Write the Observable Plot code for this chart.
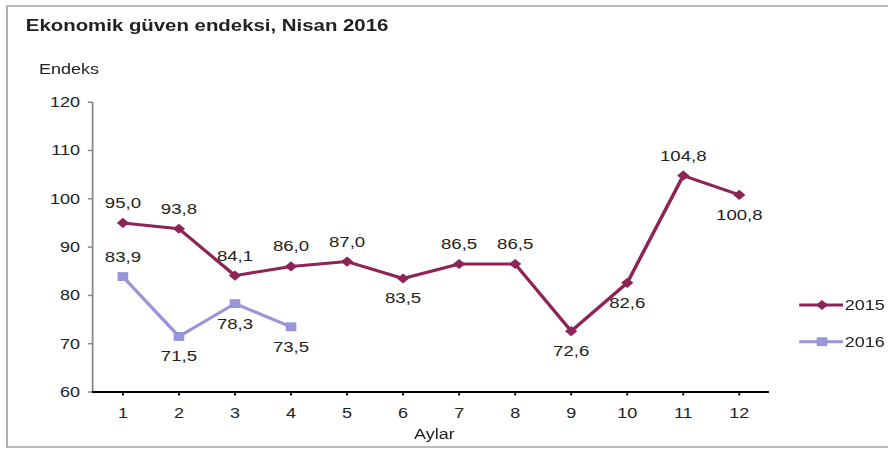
<!DOCTYPE html>
<html><head><meta charset="utf-8">
<script src="https://cdn.jsdelivr.net/npm/d3@7"></script>
<script src="https://cdn.jsdelivr.net/npm/@observablehq/plot@0.6"></script>
<style>
html,body{margin:0;padding:0;background:#fff;overflow:hidden}
#chart{width:740px;height:452px;transform:scaleX(1.2);transform-origin:0 0}
</style></head><body><div id="chart"></div>
<script>
// ---- data ----
const months = [1, 2, 3, 4, 5, 6, 7, 8, 9, 10, 11, 12];
const values2015 = [95.0, 93.8, 84.1, 86.0, 87.0, 83.5, 86.5, 86.5, 72.6, 82.6, 104.8, 100.8];
const values2016 = [83.9, 71.5, 78.3, 73.5];
const place2015 = ["above","above","above","above","above","below","above","above","below","below","above","below"];
const place2016 = ["above","below","below","below"];
const yTicks = [60, 70, 80, 90, 100, 110, 120];
const seriesNames = ["2015", "2016"];
const titleText = "Ekonomik güven endeksi, Nisan 2016";
const yLabelText = "Endeks";
const xLabelText = "Aylar";

// ---- styles ----
const colors = ["#8E2456", "#9A95DA"];
const font = "'Liberation Sans', Arial, Helvetica, sans-serif";
const textColor = "#222";
const axisGray = "#8a8a8a";
const xDomain = [0.46, 12.54];

const fmt = v => d3.format(".1f")(v).replace(".", ",");
const rows2015 = values2015.map((v, i) => ({month: months[i], value: v, place: place2015[i]}));
const rows2016 = values2016.map((v, i) => ({month: months[i], value: v, place: place2016[i]}));

function labels(rows, place, dy) {
  return Plot.text(rows, {
    filter: d => d.place === place,
    x: "month", y: "value", text: d => fmt(d.value),
    dy, fill: textColor, fontSize: 15.5
  });
}

const plot = Plot.plot({
  width: 740, height: 452,
  marginLeft: 76.7, marginRight: 99.2, marginTop: 101.7, marginBottom: 60.5,
  style: {fontFamily: font, fontSize: "15px", background: "transparent", color: textColor},
  x: {domain: xDomain},
  y: {domain: [60, 120]},
  marks: [
    Plot.ruleX([xDomain[0]], {stroke: axisGray, strokeWidth: 1.5}),
    Plot.axisY({ticks: yTicks, tickSize: 3.5, tickPadding: 7, stroke: axisGray, strokeWidth: 1.5, fill: textColor, label: null, fontSize: 15}),
    Plot.axisX({ticks: months, tickSize: 4, tickPadding: 11, stroke: "#000", strokeWidth: 1.5, fill: textColor, label: null, fontSize: 15}),
    Plot.ruleY([60], {stroke: "#000", strokeWidth: 2}),
    Plot.line(rows2015, {x: "month", y: "value", stroke: colors[0], strokeWidth: 3}),
    Plot.dot(rows2015, {x: "month", y: "value", symbol: "diamond2", r: 4.6, fill: colors[0]}),
    Plot.line(rows2016, {x: "month", y: "value", stroke: colors[1], strokeWidth: 3}),
    Plot.dot(rows2016, {x: "month", y: "value", symbol: "square", r: 5, fill: colors[1]}),
    labels(rows2015, "above", -20),
    labels(rows2015, "below", 20),
    labels(rows2016, "above", -20),
    labels(rows2016, "below", 20)
  ]
});

const svg = d3.select(plot);
svg.insert("rect", ":first-child")
  .attr("x", 5.8).attr("y", 6).attr("width", 760).attr("height", 441)
  .attr("fill", "#fff").attr("stroke", "#a6a6a6").attr("stroke-width", 1.5);
svg.append("text").attr("x", 21.5).attr("y", 31).attr("text-anchor", "start")
  .attr("font-size", 17).attr("font-weight", "bold").attr("fill", textColor).text(titleText);
svg.append("text").attr("x", 32.5).attr("y", 74).attr("text-anchor", "start")
  .attr("font-size", 15).attr("fill", textColor).text(yLabelText);
svg.append("text").attr("x", 362).attr("y", 439).attr("text-anchor", "middle")
  .attr("font-size", 15).attr("fill", textColor).text(xLabelText);

const symbols = [d3.symbolDiamond2, d3.symbolSquare];
const symR = [4.6, 5];
seriesNames.forEach((name, i) => {
  const y = 305 + i * 36.7;
  const g = svg.append("g");
  g.append("line").attr("x1", 666).attr("x2", 702.5).attr("y1", y).attr("y2", y)
    .attr("stroke", colors[i]).attr("stroke-width", 3);
  g.append("path").attr("transform", `translate(685,${y})`)
    .attr("d", d3.symbol(symbols[i], Math.PI * symR[i] * symR[i])()).attr("fill", colors[i]);
  g.append("text").attr("x", 704).attr("y", y + 5.5).attr("text-anchor", "start")
    .attr("font-size", 15).attr("fill", textColor).text(name);
});

document.getElementById("chart").appendChild(plot);
</script></body></html>
